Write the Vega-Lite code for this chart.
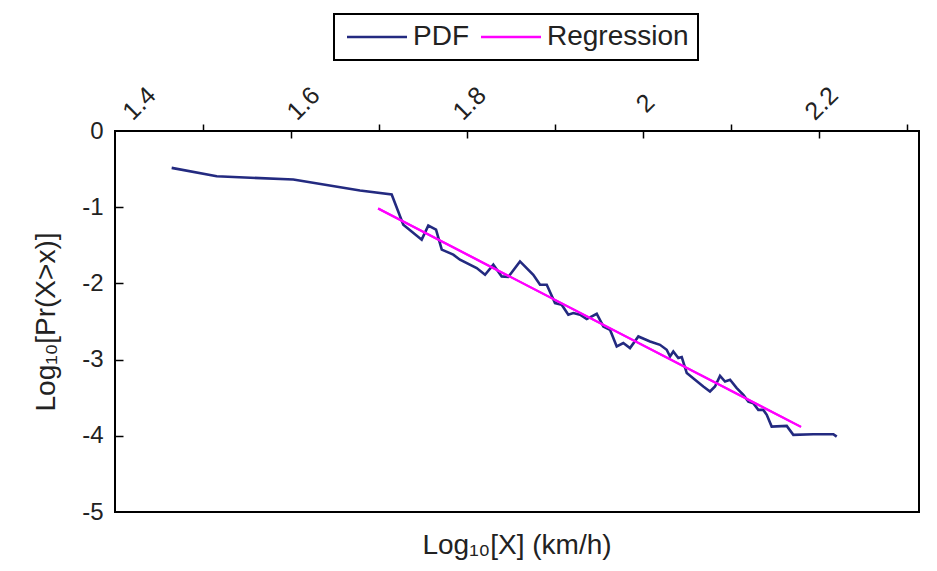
{
  "$schema": "https://vega.github.io/schema/vega-lite/v6.json",
  "width": 804,
  "height": 381,
  "autosize": {"type": "none"},
  "padding": {"left": 115, "top": 131, "right": 18, "bottom": 59},
  "background": "white",
  "config": {
    "font": "Liberation Sans",
    "view": {"stroke": "black", "strokeWidth": 2},
    "axis": {"grid": false, "domain": false, "labelFont": "Liberation Sans", "titleFont": "Liberation Sans", "labelColor": "#222222", "titleColor": "#222222", "tickColor": "black", "tickWidth": 1.5}
  },
  "title": {"text": "Log₁₀[X] (km/h)", "orient": "bottom", "anchor": "middle", "frame": "group", "fontSize": 28, "fontWeight": "normal", "color": "#222222", "offset": 8, "font": "Liberation Sans"},
  "datasets": {
    "pdf": [
      {"x": 1.4644, "y": -0.484, "series": "PDF"},
      {"x": 1.5156, "y": -0.594, "series": "PDF"},
      {"x": 1.6026, "y": -0.637, "series": "PDF"},
      {"x": 1.6784, "y": -0.782, "series": "PDF"},
      {"x": 1.7144, "y": -0.834, "series": "PDF"},
      {"x": 1.7276, "y": -1.229, "series": "PDF"},
      {"x": 1.7485, "y": -1.426, "series": "PDF"},
      {"x": 1.756, "y": -1.242, "series": "PDF"},
      {"x": 1.7648, "y": -1.294, "series": "PDF"},
      {"x": 1.7713, "y": -1.557, "series": "PDF"},
      {"x": 1.7844, "y": -1.623, "series": "PDF"},
      {"x": 1.792, "y": -1.689, "series": "PDF"},
      {"x": 1.811, "y": -1.798, "series": "PDF"},
      {"x": 1.8205, "y": -1.886, "series": "PDF"},
      {"x": 1.8299, "y": -1.754, "series": "PDF"},
      {"x": 1.8394, "y": -1.908, "series": "PDF"},
      {"x": 1.8469, "y": -1.916, "series": "PDF"},
      {"x": 1.8602, "y": -1.711, "series": "PDF"},
      {"x": 1.8753, "y": -1.886, "series": "PDF"},
      {"x": 1.883, "y": -2.017, "series": "PDF"},
      {"x": 1.8906, "y": -2.017, "series": "PDF"},
      {"x": 1.9, "y": -2.258, "series": "PDF"},
      {"x": 1.9076, "y": -2.28, "series": "PDF"},
      {"x": 1.9151, "y": -2.411, "series": "PDF"},
      {"x": 1.9208, "y": -2.389, "series": "PDF"},
      {"x": 1.9284, "y": -2.411, "series": "PDF"},
      {"x": 1.936, "y": -2.468, "series": "PDF"},
      {"x": 1.9474, "y": -2.398, "series": "PDF"},
      {"x": 1.9549, "y": -2.565, "series": "PDF"},
      {"x": 1.9625, "y": -2.608, "series": "PDF"},
      {"x": 1.9701, "y": -2.828, "series": "PDF"},
      {"x": 1.9776, "y": -2.783, "series": "PDF"},
      {"x": 1.9852, "y": -2.849, "series": "PDF"},
      {"x": 1.9947, "y": -2.696, "series": "PDF"},
      {"x": 2.008, "y": -2.762, "series": "PDF"},
      {"x": 2.0193, "y": -2.806, "series": "PDF"},
      {"x": 2.0269, "y": -2.871, "series": "PDF"},
      {"x": 2.0307, "y": -2.959, "series": "PDF"},
      {"x": 2.0344, "y": -2.894, "series": "PDF"},
      {"x": 2.0401, "y": -2.98, "series": "PDF"},
      {"x": 2.044, "y": -2.967, "series": "PDF"},
      {"x": 2.0497, "y": -3.177, "series": "PDF"},
      {"x": 2.0591, "y": -3.265, "series": "PDF"},
      {"x": 2.0685, "y": -3.353, "series": "PDF"},
      {"x": 2.0761, "y": -3.419, "series": "PDF"},
      {"x": 2.0818, "y": -3.353, "series": "PDF"},
      {"x": 2.0875, "y": -3.213, "series": "PDF"},
      {"x": 2.0932, "y": -3.288, "series": "PDF"},
      {"x": 2.0989, "y": -3.265, "series": "PDF"},
      {"x": 2.1065, "y": -3.374, "series": "PDF"},
      {"x": 2.114, "y": -3.463, "series": "PDF"},
      {"x": 2.1197, "y": -3.551, "series": "PDF"},
      {"x": 2.1253, "y": -3.572, "series": "PDF"},
      {"x": 2.131, "y": -3.66, "series": "PDF"},
      {"x": 2.1367, "y": -3.66, "series": "PDF"},
      {"x": 2.1406, "y": -3.725, "series": "PDF"},
      {"x": 2.1462, "y": -3.879, "series": "PDF"},
      {"x": 2.1633, "y": -3.87, "series": "PDF"},
      {"x": 2.1708, "y": -3.988, "series": "PDF"},
      {"x": 2.1935, "y": -3.979, "series": "PDF"},
      {"x": 2.2163, "y": -3.979, "series": "PDF"},
      {"x": 2.2201, "y": -4.011, "series": "PDF"}
    ],
    "reg": [
      {"x": 1.699, "y": -1.018, "series": "Regression"},
      {"x": 2.1795, "y": -3.883, "series": "Regression"}
    ]
  },
  "layer": [
    {
      "data": {"name": "pdf"},
      "mark": {"type": "line", "strokeWidth": 2.6},
      "encoding": {
        "x": {"field": "x", "type": "quantitative",
          "scale": {"domain": [1.4, 2.3136], "nice": false, "zero": false},
          "axis": {"orient": "top", "values": [1.4, 1.6, 1.8, 2, 2.2], "labelExpr": "'' + datum.value", "labelAngle": -45, "labelAlign": "center", "labelBaseline": "middle", "ticks": false, "labelPadding": 28, "labelFontSize": 25, "labelFlush": false, "labelOverlap": false, "title": null,
            "labelOffset": {"condition": [{"test": "datum.value < 1.5", "value": 24}, {"test": "datum.value < 1.7", "value": 12}], "value": 2}}},
        "y": {"field": "y", "type": "quantitative",
          "scale": {"domain": [-5, 0], "nice": false, "zero": false},
          "axis": {"orient": "left", "values": [-5, -4, -3, -2, -1, 0], "labelExpr": "'' + datum.value", "ticks": false, "labelPadding": 12, "labelFontSize": 24, "labelFlush": false, "title": "Log₁₀[Pr(X>x)]", "titleFontSize": 28, "titleFontWeight": "normal", "titlePadding": 21}},
        "color": {"field": "series", "type": "nominal",
          "scale": {"domain": ["PDF", "Regression"], "range": ["#232a80", "#ff00ff"]},
          "legend": {"orient": "none", "legendX": 219, "legendY": -117, "direction": "horizontal", "title": null, "symbolType": "M-1,0H5", "symbolSize": 400, "symbolStrokeWidth": 2.5, "labelFontSize": 28, "labelFont": "Liberation Sans", "labelColor": "#222222", "labelOffset": 42, "columnPadding": 7, "padding": 9, "strokeColor": "black",
            "encode": {"legend": {"update": {"strokeWidth": {"value": 2}}}}}}
      }
    },
    {
      "data": {"name": "reg"},
      "mark": {"type": "line", "strokeWidth": 2.2},
      "encoding": {
        "x": {"field": "x", "type": "quantitative",
          "axis": {"orient": "top", "values": [1.5, 1.7, 1.9, 2.1, 2.3], "labels": false, "tickSize": 7, "title": null}},
        "y": {"field": "y", "type": "quantitative",
          "axis": {"orient": "left", "values": [-4, -3, -2, -1], "labels": false, "tickSize": 8, "offset": -8, "title": null}},
        "color": {"field": "series", "type": "nominal"}
      }
    },
    {
      "data": {"name": "reg"},
      "mark": {"type": "line", "strokeWidth": 2.2},
      "encoding": {
        "x": {"field": "x", "type": "quantitative",
          "axis": {"orient": "top", "values": [1.6, 1.8, 2, 2.2], "labels": false, "tickSize": 7, "offset": -7, "title": null}},
        "y": {"field": "y", "type": "quantitative", "axis": null},
        "color": {"field": "series", "type": "nominal"}
      }
    }
  ],
  "resolve": {"axis": {"x": "independent", "y": "independent"}}
}
